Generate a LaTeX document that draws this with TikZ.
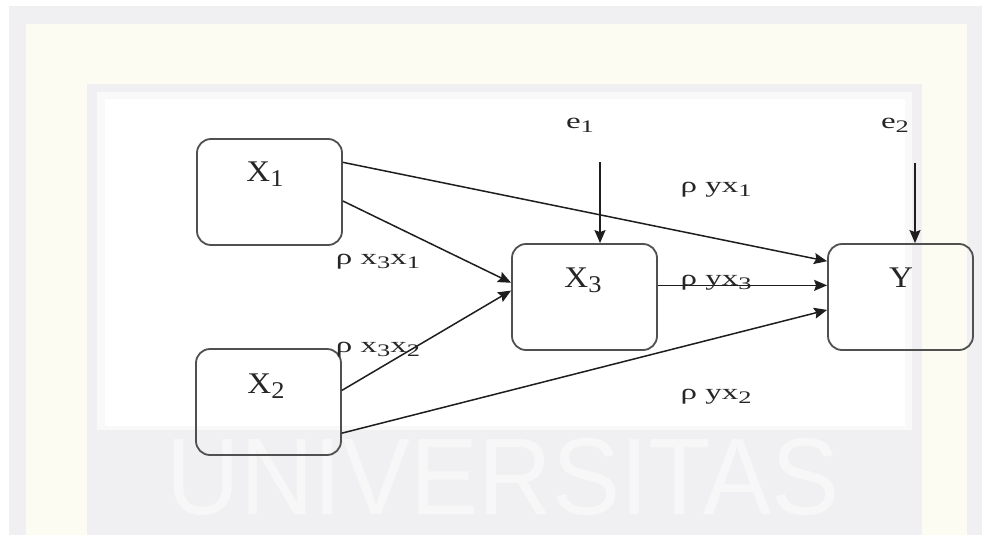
\documentclass[tikz,border=0pt]{standalone}
\usepackage{fontspec}
\usepackage{graphicx}
\setmainfont{Liberation Serif}
\newfontfamily\wmfont{Liberation Sans}
\usetikzlibrary{arrows.meta}
\definecolor{framegray}{HTML}{F0F0F2}
\definecolor{bandyellow}{HTML}{FDFCF2}
\definecolor{wmwhite}{HTML}{F7F7F8}
\definecolor{boxline}{HTML}{505050}
\definecolor{arrline}{HTML}{1E1E1E}
\newcommand\lowidx[1]{\raisebox{-0.18em}{\fontsize{0.8em}{1em}\selectfont #1}}
\tikzset{
  varbox/.style={draw=boxline, line width=1.8pt, rounded corners=14pt,
    minimum width=145pt, minimum height=106pt, inner sep=0pt},
  varlbl/.style={font=\fontsize{30}{34}\selectfont, inner sep=0pt, text=black!85, xscale=1.1},
  edgelbl/.style={font=\fontsize{22}{26}\selectfont, inner sep=0pt, text=black!85, xscale=1.5},
  arr/.style={draw=arrline, line width=1.5pt, -{Stealth[length=13pt,width=11pt,inset=2pt]}}
}
\begin{document}
\begin{tikzpicture}[x=1pt,y=-1pt]
\useasboundingbox (0,0) rectangle (982,535);
% background
\fill[white] (0,0) rectangle (982,535);
\fill[framegray] (9,6) rectangle (982,535);
\fill[bandyellow] (26,24) rectangle (967,535);
\fill[framegray] (87,84) rectangle (922,535);
\fill[white!60!framegray] (97,92) rectangle (912,430);
\fill[white] (105,99) rectangle (905,426);
\node[inner sep=0pt, text=wmwhite] (wm) at (503,477)
  {\resizebox{673pt}{76pt}{\wmfont UNIVERSITAS}};
% boxes
\node[varbox] (x1) at (269.5,192) {};
\node[varbox] (x2) at (268.5,402) {};
\node[varbox] (x3) at (584.5,297) {};
\node[varbox] (y)  at (900.5,297) {};
% box labels
\node[varlbl] (x1l) at (265,174) {X\lowidx{1}};
\node[varlbl] (x2l) at (266,386) {X\lowidx{2}};
\node[varlbl] (x3l) at (583,280) {X\lowidx{3}};
\node[varlbl] (yl)  at (901,278) {Y};
% error terms
\node[edgelbl] (e1) at (580,125) {e\lowidx{1}};
\node[edgelbl] (e2) at (895,125) {e\lowidx{2}};
\coordinate (e1s) at (600,162);
\coordinate (e2s) at (915,163);
% arrows
\draw[arr] (x1.22.5) -- (y.154.9);
\draw[arr] (x1.-7.85) -- (x3.169.8);
\draw[arr] (x2.9.4) -- (x3.175.3);
\draw[arr] (x2.-23.1) -- (y.190.9);
\draw[arr] (x3.9.4) -- (y.171.4);
\draw[arr] (e1s) -- (e1s |- x3.north);
\draw[arr] (e2s) -- (e2s |- y.north);
% path labels
\node[edgelbl] (l31) at (378,262) {ρ x\lowidx{3}x\lowidx{1}};
\node[edgelbl] (l32) at (378,350) {ρ x\lowidx{3}x\lowidx{2}};
\node[edgelbl] (ly1) at (716,190) {ρ yx\lowidx{1}};
\node[edgelbl] (ly3) at (716,283) {ρ yx\lowidx{3}};
\node[edgelbl] (ly2) at (716,397) {ρ yx\lowidx{2}};
\end{tikzpicture}
\end{document}
